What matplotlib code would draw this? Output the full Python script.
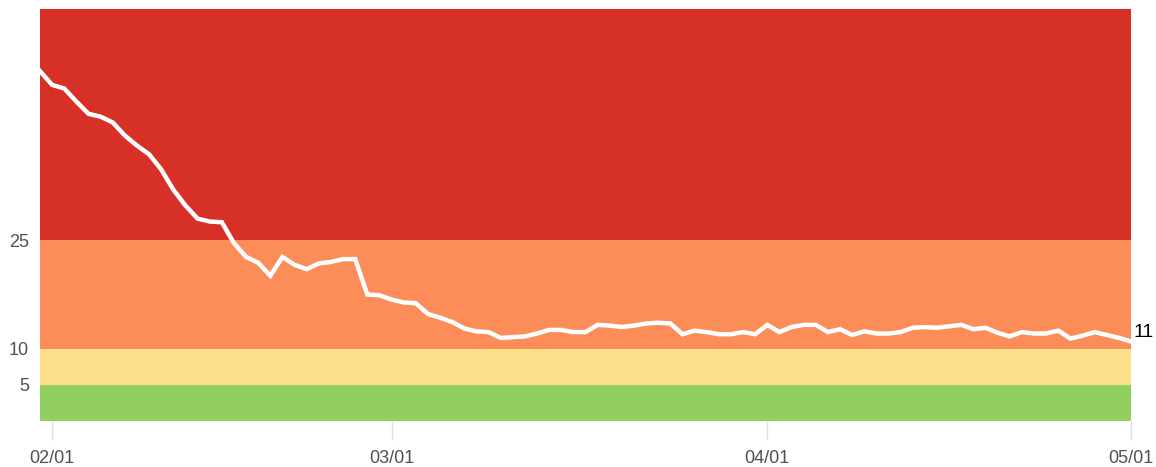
import pandas as pd
from matplotlib import pyplot as plt
import matplotlib.dates as mdates

# Daily values, 2021-01-31 .. 2021-05-01
start_date = "2021-01-31"
end_date = "2021-05-01"
jan_vals = [48.4]
feb_vals = [46.5, 46.0, 44.2, 42.5, 42.1, 41.3, 39.5, 38.1, 36.9, 34.8,
            32.0, 29.8, 28.0, 27.6, 27.5, 24.6, 22.7, 21.9, 20.1, 22.7,
            21.6, 21.0, 21.8, 22.0, 22.4, 22.4, 17.5, 17.4]
mar_vals = [16.8, 16.4, 16.3, 14.8, 14.3, 13.7, 12.8, 12.4, 12.3, 11.5,
            11.6, 11.7, 12.1, 12.6, 12.6, 12.3, 12.3, 13.3, 13.2, 13.0,
            13.2, 13.5, 13.6, 13.5, 12.0, 12.5, 12.3, 12.0, 12.0, 12.3,
            12.0]
apr_vals = [13.3, 12.3, 13.0, 13.3, 13.3, 12.3, 12.7, 11.9, 12.4, 12.1,
            12.1, 12.3, 12.9, 13.0, 12.9, 13.1, 13.3, 12.7, 12.9, 12.2,
            11.7, 12.3, 12.1, 12.1, 12.5, 11.4, 11.8, 12.3, 11.9, 11.5]
may_vals = [11.0]

# Risk bands (lower, upper) and colours
band_edges = [0, 5, 10, 25, 57]
band_colors = ["#91cf60", "#fee08b", "#fc8d59", "#d73027"]
y_ticks = [5, 10, 25]
x_ticks = ["2021-02-01", "2021-03-01", "2021-04-01", "2021-05-01"]

dates = pd.date_range(start_date, end_date, freq="D")
values = jan_vals + feb_vals + mar_vals + apr_vals + may_vals

plt.rcParams["font.family"] = ["Liberation Sans", "DejaVu Sans"]

fig = plt.figure(figsize=(11.56, 4.67), dpi=100)
ax = fig.add_axes([40 / 1156, 46 / 467, 1091 / 1156, 412 / 467])

# Background bands
for i, c in enumerate(band_colors):
    ax.axhspan(band_edges[i], band_edges[i + 1], color=c, lw=0, zorder=0)

ax.plot(dates, values, color="white", lw=3.2, solid_joinstyle="miter", zorder=3)

# Last value label
ax.annotate(f"{values[-1]:.0f}", (dates[-1], values[-1]), xytext=(2, 0),
            textcoords="offset points", ha="left", va="bottom",
            fontsize=14, color="black", annotation_clip=False)

ax.set_xlim(dates[0], dates[-1])
ax.set_ylim(band_edges[0], band_edges[-1])

ax.set_yticks(y_ticks)
ax.set_yticklabels([str(t) for t in y_ticks])
ax.set_xticks(pd.to_datetime(x_ticks))
ax.xaxis.set_major_formatter(mdates.DateFormatter("%m/%d"))

ax.tick_params(axis="y", length=0, pad=8, labelsize=13, labelcolor="#505050")
ax.tick_params(axis="x", length=14, width=1, color="#e0e0e0", pad=7,
               labelsize=13, labelcolor="#505050")

for s in ax.spines.values():
    s.set_visible(False)

plt.savefig("out.png", dpi=100)
